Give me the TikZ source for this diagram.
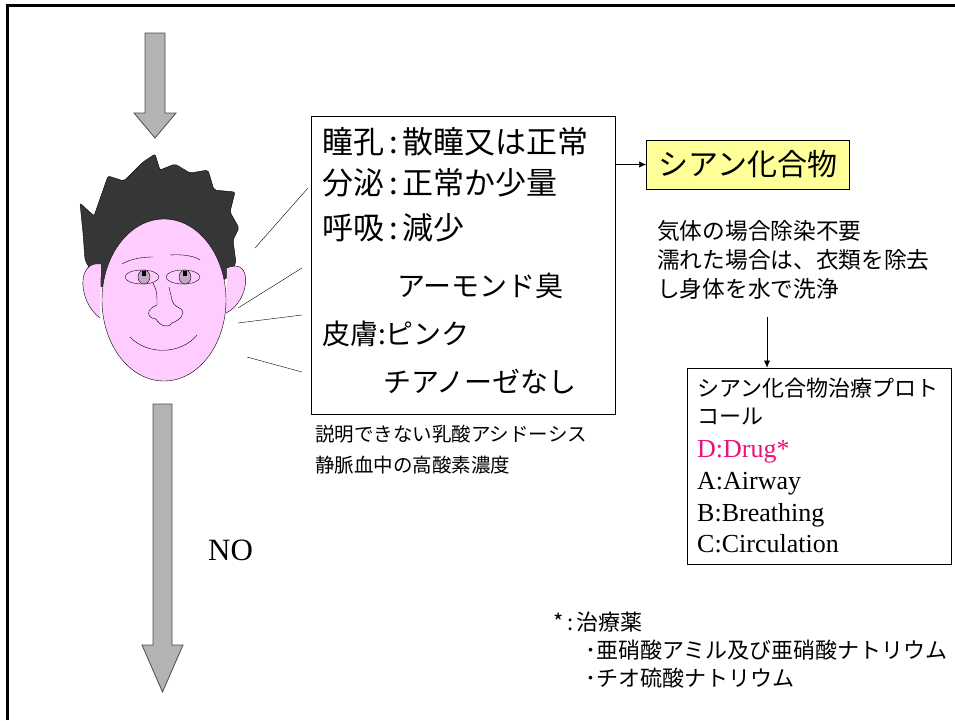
\documentclass[tikz,border=0pt]{standalone}
\usepackage{fontspec}
\setmainfont{Liberation Serif}
\newfontfamily\jp{Noto Sans CJK JP}
\usetikzlibrary{arrows.meta,positioning}

\definecolor{skin}{HTML}{FFCCFF}
\definecolor{hair}{HTML}{363636}
\definecolor{iris}{HTML}{C6A6C6}
\definecolor{notebox}{HTML}{FFFF99}
\definecolor{drugred}{HTML}{EE1177}
\definecolor{blockgray}{HTML}{B3B3B3}

\newcommand{\sep}{\hspace{5pt}:\hspace{5pt}}

\tikzset{
  txt/.style={anchor=west, inner sep=0pt},
  bigjp/.style={txt, font=\jp\fontsize{31}{31}\selectfont},
  midjp/.style={txt, font=\jp\fontsize{28}{28}\selectfont},
  smalljp/.style={txt, font=\jp\fontsize{22}{22}\selectfont},
  roman/.style={anchor=base west, inner sep=0pt, font=\fontsize{26}{26}\selectfont},
  box/.style={draw, line width=0.8pt, inner sep=0pt},
  blockarrow/.style={fill=blockgray, draw=black!70, line width=0.8pt},
}

\begin{document}
\begin{tikzpicture}[x=1pt,y=-1pt]
\useasboundingbox (0,0) rectangle (955,720);

% frame
\draw[line width=3pt] (7,720) -- (7,5) -- (955,5);

% big arrows
\draw[blockarrow] (145,33) -- (165,33) -- (165,113) -- (176,113) -- (155,138)
  -- (134,113) -- (145,113) -- cycle;
\draw[blockarrow] (153,404) -- (172,404) -- (172,645) -- (183,645) -- (162.5,692)
  -- (142,645) -- (153,645) -- cycle;
\node[txt, font=\fontsize{31}{31}\selectfont] (no) at (208,550) {NO};

% head
\fill[hair, draw=black, rounded corners=2pt]
  (100,287) -- (85,260) -- (83,233) -- (80,203) -- (94,216) -- (108,176)
  -- (124,181) -- (143,162) -- (155,154) -- (160,170) -- (175,164)
  -- (190,173) -- (208,170) -- (214,190) -- (235,192) -- (230,212)
  -- (239,228) -- (233,240) -- (236,263) -- (225,280) -- cycle;
\draw[fill=skin] (101,264) .. controls (76,260) and (78,302) .. (100,318);
\draw[fill=skin] (227,268) .. controls (254,256) and (250,302) .. (226,313);
\draw[fill=skin] (164,300) ellipse [x radius=62, y radius=81];
% brows
\draw (122,264) .. controls (132,258) and (145,257) .. (153,257);
\draw (170,255) .. controls (182,254) and (195,256) .. (200,260);
% eyes
\draw (142,277) ellipse [x radius=17, y radius=7];
\draw (183,277) ellipse [x radius=17, y radius=7];
\draw[fill=iris] (144,277) ellipse [x radius=6, y radius=7];
\draw[fill=iris] (185,277) ellipse [x radius=6, y radius=7];
\fill (142,271) rectangle (146,276);
\fill (183,271) rectangle (187,276);
% nose and mouth
\draw (153,283) .. controls (157,292) .. (157,305) .. controls (146,309) and (146,318) .. (156,319)
  .. controls (160,326) and (168,329) .. (172,323) .. controls (180,320) and (186,314) .. (181,309)
  .. controls (174,305) .. (172,300) .. controls (171,294) .. (169,287);
\draw (130,337) .. controls (148,356) and (182,354) .. (197,335);

% symptoms
\node[box, minimum width=304, minimum height=298] (symptoms) at (463,265) {};
\node[bigjp] (pupil) at (322,142) {瞳孔\sep 散瞳又は正常};
\node[bigjp] (secr) at (322,183) {分泌\sep 正常か少量};
\node[bigjp] (resp) at (322,228) {呼吸\sep 減少};
\node[midjp] (smell) at (397,286) {アーモンド臭};
\node[midjp] (skin) at (322,334) {皮膚:ピンク};
\node[midjp] (cyan) at (383,382) {チアノーゼなし};
\node[smalljp, font=\jp\fontsize{19.5}{20}\selectfont] (lact) at (315,434) {説明できない乳酸アシドーシス};
\node[smalljp, font=\jp\fontsize{19.5}{20}\selectfont] (oxy) at (315,465) {静脈血中の高酸素濃度};

% pointer lines
\coordinate (f1) at (255,248);
\coordinate (f2) at (238,308);
\coordinate (f3) at (238,323);
\coordinate (f4) at (247,357);
\draw (f1) -- (308,188);
\draw (f2) -- (302,268);
\draw (f3) -- (302,315);
\draw (f4) -- (302,372);

% cyanide
\node[box, fill=notebox, minimum width=203, minimum height=49,
  font=\jp\fontsize{30}{30}\selectfont] (cyanide) at (748,164.5) {シアン化合物};
\draw[-{Latex[length=7pt,width=6pt]}] (symptoms.east |- cyanide.west) -- (cyanide.west);

\node[smalljp, font=\jp\fontsize{22.7}{29}\selectfont, align=left, anchor=north west]
  (decon) at (657,220) {気体の場合除染不要\\濡れた場合は、衣類を除去\\し身体を水で洗浄};

% protocol
\node[box, minimum width=264, minimum height=196] (proto) at (819,466) {};
\node[smalljp] (p1) at (697,388) {シアン化合物治療プロト};
\node[smalljp] (p2) at (697,417) {コール};
\node[roman, text=drugred] (pd) at (697,457) {D:Drug*};
\node[roman] (pa) at (697,489) {A:Airway};
\node[roman] (pb) at (697,521) {B:Breathing};
\node[roman] (pc) at (697,552) {C:Circulation};
\coordinate (deconout) at (767,317);
\draw[-{Latex[length=7pt,width=6pt]}] (deconout) -- (deconout |- proto.north);

% footnote
\node[smalljp] (star) at (553,622) {*\,:\,治療薬};
\node[smalljp] (drug1) at (585,650) {･亜硝酸アミル及び亜硝酸ナトリウム};
\node[smalljp] (drug2) at (585,678) {･チオ硫酸ナトリウム};
\end{tikzpicture}
\end{document}
